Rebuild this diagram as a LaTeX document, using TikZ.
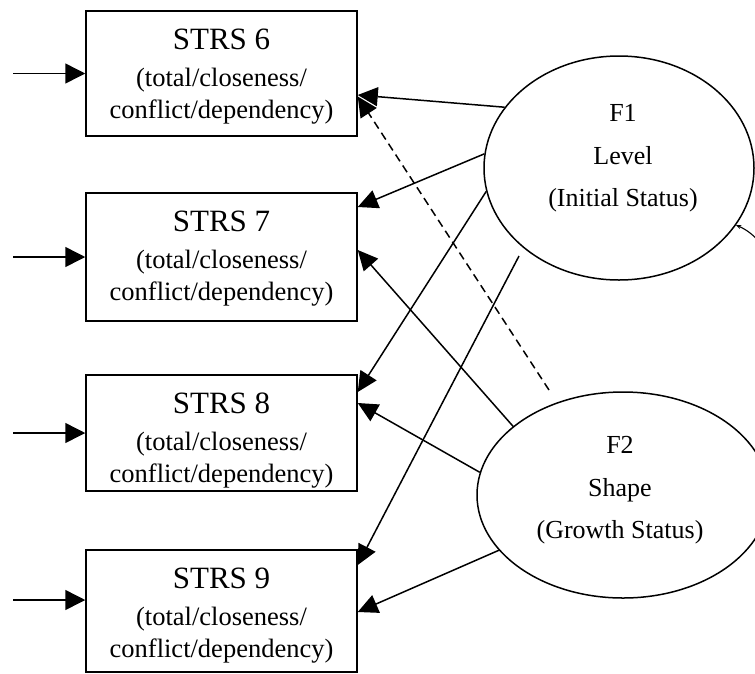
\documentclass[tikz,border=0pt]{standalone}
\usepackage{fontspec}
\setmainfont{Liberation Serif}
\usetikzlibrary{arrows.meta,shapes.geometric,calc}

\begin{document}
\begin{tikzpicture}[x=1pt,y=-1pt,
  line width=1.5pt,
  box/.style={draw, rectangle, minimum width=271pt, inner sep=0pt},
  boxlabel/.style={anchor=north, align=center, inner sep=0pt,
    font=\fontsize{26.5}{32}\selectfont},
  latent/.style={draw, ellipse, inner sep=0pt},
  latlabel/.style={anchor=north, align=center, inner sep=0pt,
    font=\fontsize{26}{42.5}\selectfont},
  load/.style={-{Triangle[length=20pt,width=19pt]}},
  inarrow/.style={-{Triangle[length=20pt,width=20pt]}},
  corr/.style={load, dash pattern=on 8pt off 5pt}
]
\useasboundingbox (0,0) rectangle (755,673);

% observed measures
\node[box, minimum height=125pt] (s6) at (221.5,73.5) {};
\node[box, minimum height=128pt] (s7) at (221.5,257) {};
\node[box, minimum height=116pt] (s8) at (221.5,433) {};
\node[box, minimum height=122pt] (s9) at (221.5,611) {};

\node[boxlabel] (s6t) at ($(s6.north)+(0,18)$)
  {{\fontsize{31}{31}\selectfont STRS 6}\\[5pt](total/closeness/\\conflict/dependency)};
\node[boxlabel] (s7t) at ($(s7.north)+(0,18)$)
  {{\fontsize{31}{31}\selectfont STRS 7}\\[5pt](total/closeness/\\conflict/dependency)};
\node[boxlabel] (s8t) at ($(s8.north)+(0,18)$)
  {{\fontsize{31}{31}\selectfont STRS 8}\\[5pt](total/closeness/\\conflict/dependency)};
\node[boxlabel] (s9t) at ($(s9.north)+(0,18)$)
  {{\fontsize{31}{31}\selectfont STRS 9}\\[5pt](total/closeness/\\conflict/dependency)};

% latent growth factors
\node[latent, minimum width=270pt, minimum height=224pt] (f1) at (619,168) {};
\node[latent, minimum width=292pt, minimum height=206pt] (f2) at (623,495) {};
\node[latlabel] (f1t) at (623,104) {F1\\Level\\(Initial Status)};
\node[latlabel] (f2t) at (620,436) {F2\\Shape\\(Growth Status)};

% residual inputs
\coordinate (e6) at (13,73.5);
\coordinate (e7) at (13,257);
\coordinate (e8) at (13,433);
\coordinate (e9) at (13,600);
\draw[inarrow] (e6) -- (s6.west);
\draw[inarrow] (e7) -- (s7.west);
\draw[inarrow] (e8) -- (s8.west);
\draw[inarrow] (e9) -- ($(s9.west)+(0,-11)$);

% loadings of F1
\draw[load] (f1.152.6) -- ($(s6.east)+(0,21.5)$);
\draw[load] (f1.174.9) -- ($(s7.east)+(0,-50)$);
\draw[load] (f1.190.5) -- ($(s8.east)+(0,-41)$);
\draw[load] ($(f1.center)+(-100,88)$) -- ($(s9.east)+(0,-46)$);

% loadings of F2
\draw[load] (f2.148.9) -- ($(s7.east)+(0,-7)$);
\draw[load] (f2.171.7) -- ($(s8.east)+(0,-30)$);
\draw[load] (f2.204) -- ($(s9.east)+(0,1)$);
\draw[corr] ($(f2.center)+(-74,-105)$) -- ($(s6.east)+(0,23)$);

% factor covariance
\begin{scope}
  \clip (0,0) rectangle (755,673);
  \draw[line width=1.1pt, {Stealth[length=5pt,width=4pt]}-{Stealth[length=5pt,width=4pt]}]
    (f1.334) .. controls (805,255) and (805,430) .. (f2.16);
\end{scope}
\end{tikzpicture}
\end{document}
